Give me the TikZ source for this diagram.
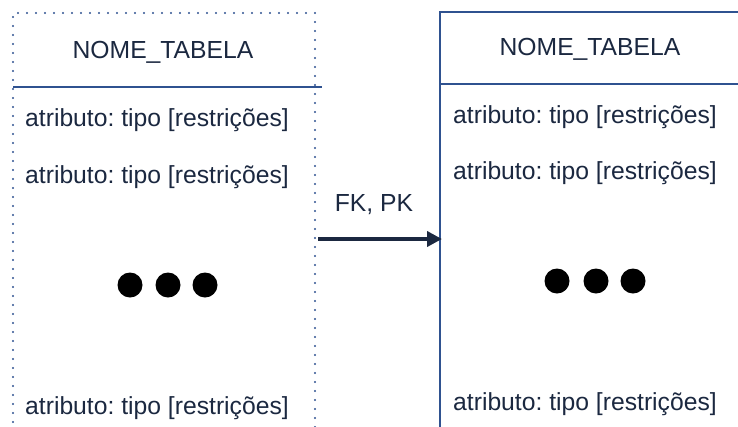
\documentclass[tikz,border=0pt]{standalone}
\usepackage{fontspec}
\setmainfont{Liberation Sans}
\usetikzlibrary{arrows.meta}
\definecolor{navy}{HTML}{2F5290}
\definecolor{ink}{HTML}{1B2840}
\frenchspacing
\begin{document}
\begin{tikzpicture}[x=1pt,y=-1pt,
  txt/.style={inner sep=0pt,text=ink,font=\fontsize{24.7}{28}\selectfont},
  attr/.style={txt,anchor=west},
  dotbox/.style={navy,line width=2.2pt,dash pattern=on 0pt off 9pt,line cap=round},
  solidbox/.style={navy,line width=1.4pt},
  bigdot/.style={circle,fill=black,inner sep=0pt,minimum size=25pt},
  fkarrow/.style={ink,line width=4.5pt,-{Triangle[length=15pt,width=15pt]}}]
\useasboundingbox (0,0) rectangle (738,426);
\clip (0,0) rectangle (738,426);
% left table (dotted)
\draw[dotbox] (13,440) -- (13,13) -- (315,13) -- (315,440);
\draw[solidbox] (13,87) -- (322,87);
\node[txt] (lt) at (163,52) {NOME\_TABELA};
\node[attr] (la1) at (25,120) {atributo: tipo [restrições]};
\node[attr] (la2) at (25,177) {atributo: tipo [restrições]};
\node[attr] (la3) at (25,408) {atributo: tipo [restrições]};
\node[bigdot] (ld1) at (130,285) {};
\node[bigdot] (ld2) at (168,285) {};
\node[bigdot] (ld3) at (205,285) {};
% right table (solid)
\draw[solidbox] (440,440) -- (440,12) -- (750,12);
\draw[solidbox] (440,84) -- (750,84);
\node[txt] (rt) at (590,49) {NOME\_TABELA};
\node[attr] (ra1) at (453,117) {atributo: tipo [restrições]};
\node[attr] (ra2) at (453,173) {atributo: tipo [restrições]};
\node[attr] (ra3) at (453,404) {atributo: tipo [restrições]};
\node[bigdot] (rd1) at (557,281) {};
\node[bigdot] (rd2) at (596,281) {};
\node[bigdot] (rd3) at (633,281) {};
% arrow
\coordinate (from) at (318,239);
\coordinate (to) at (442,239);
\draw[fkarrow] (from) -- (to);
\node[txt] (lbl) at (374,205) {FK, PK};
\end{tikzpicture}
\end{document}
